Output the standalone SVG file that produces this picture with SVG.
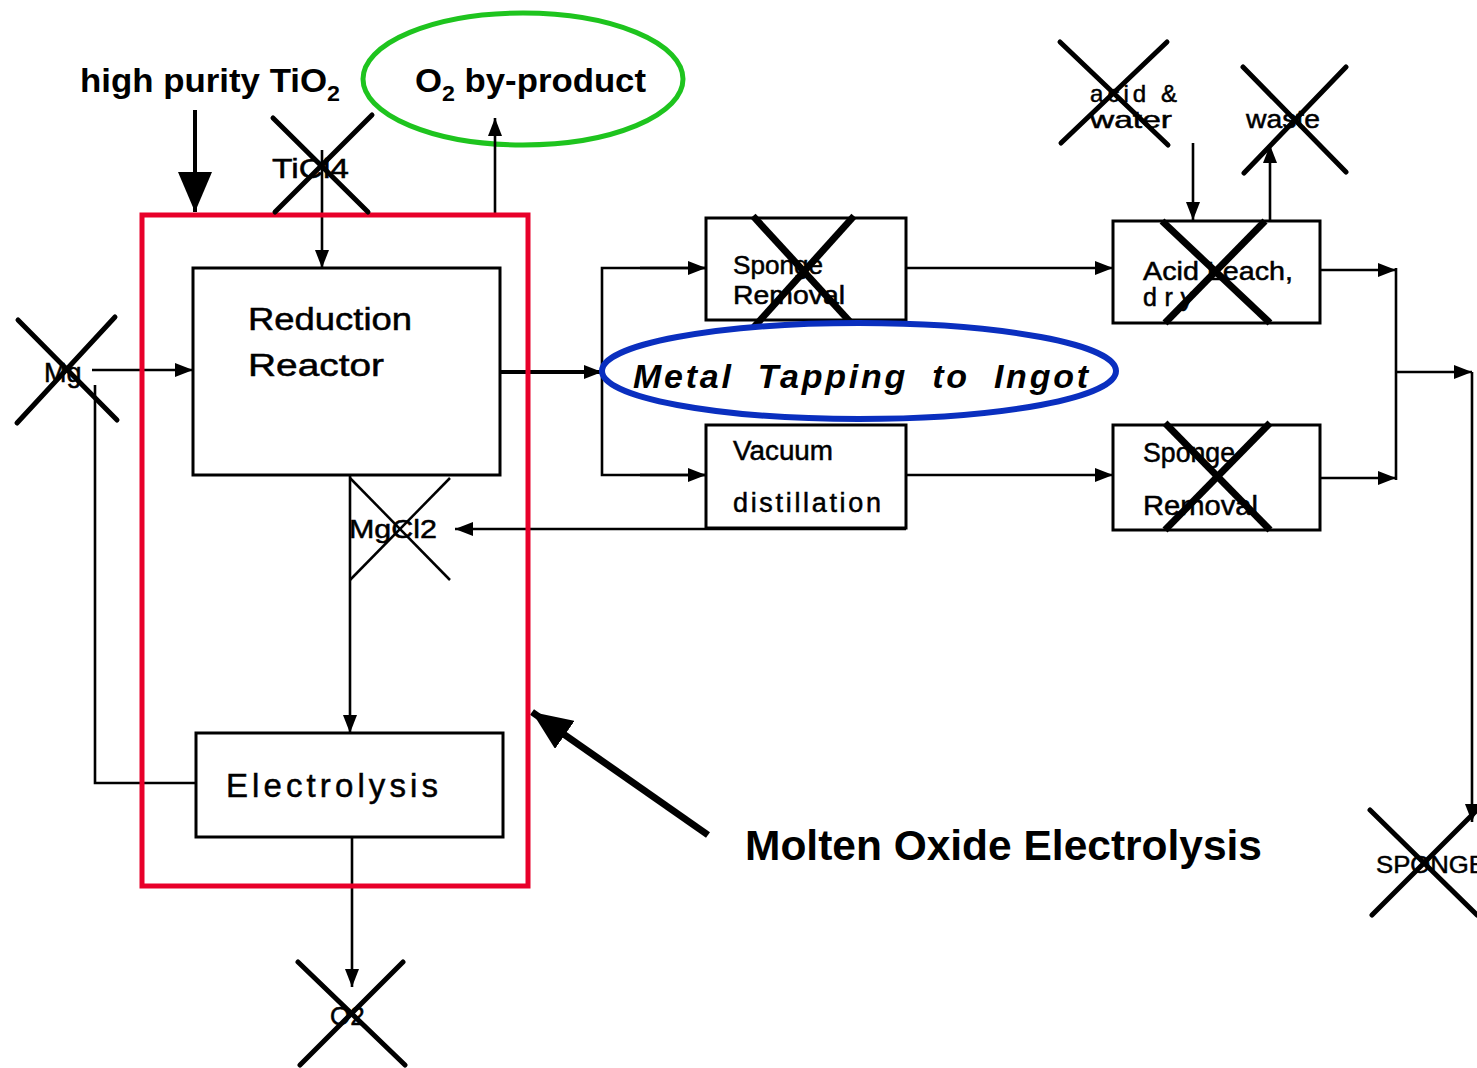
<svg xmlns="http://www.w3.org/2000/svg" width="1477" height="1068" viewBox="0 0 1477 1068">
<style>
.box{fill:#fff;stroke:#000;stroke-width:3}
.ln{fill:none;stroke:#000;stroke-width:2.6}
.x{stroke:#000;stroke-width:5;stroke-linecap:round}
.xt{stroke:#000;stroke-width:7}
.xn{stroke:#000;stroke-width:2.5}
.t{font-family:"Liberation Sans",Arial,sans-serif;fill:#000;stroke:#000;stroke-width:0.5}
.b{font-family:"Liberation Sans",Arial,sans-serif;font-weight:bold;fill:#000}
</style>
<defs>
<marker id="a" markerUnits="userSpaceOnUse" markerWidth="18" markerHeight="14" refX="18" refY="7" orient="auto"><path d="M0,0 L18,7 L0,14 z" fill="#000"/></marker>
<marker id="big" markerUnits="userSpaceOnUse" markerWidth="40" markerHeight="34" refX="40" refY="17" orient="auto"><path d="M0,0 L40,17 L0,34 z" fill="#000"/></marker>
</defs>
<rect width="1477" height="1068" fill="#fff"/>

<g id="o2-byproduct">
<ellipse cx="523" cy="79" rx="160" ry="66" fill="#fff" stroke="#1ec41e" stroke-width="5"/>
<text class="b" x="415" y="92" font-size="33" textLength="231" lengthAdjust="spacingAndGlyphs">O<tspan font-size="22" dy="9">2</tspan><tspan dy="-9"> by-product</tspan></text>
</g>

<g id="connectors">
<line class="ln" x1="195" y1="110" x2="195" y2="212" style="stroke-width:4" marker-end="url(#big)"/>
<line class="ln" x1="322" y1="150" x2="322" y2="268" marker-end="url(#a)"/>
<line class="ln" x1="495" y1="215" x2="495" y2="118" marker-end="url(#a)"/>
<line class="ln" x1="92" y1="370" x2="193" y2="370" marker-end="url(#a)"/>
<polyline class="ln" points="95,385 95,783 196,783"/>
<line class="ln" x1="500" y1="372" x2="602" y2="372" style="stroke-width:4" marker-end="url(#a)"/>
<polyline class="ln" points="705,268 602,268 602,475 705,475"/>
<line class="ln" x1="640" y1="268" x2="706" y2="268" marker-end="url(#a)"/>
<line class="ln" x1="640" y1="475" x2="706" y2="475" marker-end="url(#a)"/>
<line class="ln" x1="906" y1="268" x2="1113" y2="268" marker-end="url(#a)"/>
<line class="ln" x1="906" y1="475" x2="1113" y2="475" marker-end="url(#a)"/>
<line class="ln" x1="906" y1="529" x2="455" y2="529" marker-end="url(#a)"/>
<line class="ln" x1="350" y1="475" x2="350" y2="733" marker-end="url(#a)"/>
<line class="ln" x1="352" y1="837" x2="352" y2="987" marker-end="url(#a)"/>
<line class="ln" x1="1193" y1="143" x2="1193" y2="220" marker-end="url(#a)"/>
<line class="ln" x1="1270" y1="221" x2="1270" y2="145" marker-end="url(#a)"/>
<line class="ln" x1="1320" y1="270" x2="1396" y2="270" marker-end="url(#a)"/>
<line class="ln" x1="1320" y1="478" x2="1396" y2="478" marker-end="url(#a)"/>
<line class="ln" x1="1396" y1="268" x2="1396" y2="480"/>
<line class="ln" x1="1396" y1="372" x2="1472" y2="372" marker-end="url(#a)"/>
<line class="ln" x1="1472" y1="372" x2="1472" y2="822" marker-end="url(#a)"/>
<line class="ln" x1="708" y1="835" x2="532" y2="712" style="stroke-width:7" marker-end="url(#big)"/>
</g>

<g id="molten-oxide-box">
<rect x="142" y="215" width="386" height="671" fill="none" stroke="#e8002a" stroke-width="5"/>
</g>

<g id="high-purity">
<text class="b" x="80" y="92" font-size="33" textLength="260" lengthAdjust="spacingAndGlyphs">high purity TiO<tspan font-size="22" dy="9">2</tspan></text>
</g>

<g id="ticl4">
<text class="t" x="272" y="178" font-size="28" textLength="77" lengthAdjust="spacingAndGlyphs">TiCl4</text>
<line class="x" x1="273" y1="118" x2="368" y2="212"/>
<line class="x" x1="372" y1="115" x2="275" y2="212"/>
</g>

<g id="mg">
<text class="t" x="44" y="382" font-size="27">Mg</text>
<line class="x" x1="18" y1="320" x2="117" y2="420" stroke-width="6"/>
<line class="x" x1="115" y1="317" x2="17" y2="423" stroke-width="6"/>
</g>

<g id="reduction-reactor">
<rect class="box" x="193" y="268" width="307" height="207"/>
<text class="t" x="248" y="330" font-size="31" textLength="164" lengthAdjust="spacingAndGlyphs">Reduction</text>
<text class="t" x="248" y="376" font-size="31" textLength="136" lengthAdjust="spacingAndGlyphs">Reactor</text>
</g>

<g id="mgcl2">
<line class="xn" x1="350" y1="478" x2="450" y2="580"/>
<line class="xn" x1="450" y1="478" x2="350" y2="580"/>
<text class="t" x="349" y="538" font-size="26" textLength="88" lengthAdjust="spacingAndGlyphs">MgCl2</text>
</g>

<g id="electrolysis">
<rect class="box" x="196" y="733" width="307" height="104"/>
<text class="t" x="226" y="797" font-size="33" textLength="212" lengthAdjust="spacing">Electrolysis</text>
</g>

<g id="o2-out">
<text class="t" x="330" y="1025" font-size="26">O2</text>
<line class="x" x1="298" y1="962" x2="405" y2="1065" stroke-width="6"/>
<line class="x" x1="403" y1="962" x2="300" y2="1065" stroke-width="6"/>
</g>

<g id="sponge-removal-1">
<rect class="box" x="706" y="218" width="200" height="102"/>
<text class="t" x="733" y="274" font-size="25" textLength="90" lengthAdjust="spacingAndGlyphs">Sponge</text>
<text class="t" x="733" y="304" font-size="25" textLength="112" lengthAdjust="spacingAndGlyphs">Removal</text>
<line class="xt" x1="753" y1="216" x2="853" y2="325"/>
<line class="xt" x1="854" y1="216" x2="754" y2="327"/>
</g>

<g id="vacuum-distillation">
<rect class="box" x="706" y="425" width="200" height="103"/>
<text class="t" x="733" y="460" font-size="27" textLength="100" lengthAdjust="spacingAndGlyphs">Vacuum</text>
<text class="t" x="733" y="512" font-size="27" textLength="148" lengthAdjust="spacing">distillation</text>
</g>

<g id="metal-tapping">
<ellipse cx="859" cy="371" rx="257" ry="48" fill="#fff" stroke="#0a2fbf" stroke-width="6"/>
<text class="b" x="633" y="388" font-size="34" font-style="italic" textLength="455" lengthAdjust="spacing" word-spacing="12">Metal Tapping to Ingot</text>
</g>

<g id="acid-leach">
<rect class="box" x="1113" y="221" width="207" height="102"/>
<text class="t" x="1143" y="280" font-size="25" textLength="150" lengthAdjust="spacingAndGlyphs">Acid Leach,</text>
<text class="t" x="1143" y="306" font-size="25" textLength="50" lengthAdjust="spacing">dry</text>
<line class="xt" x1="1162" y1="221" x2="1270" y2="323"/>
<line class="xt" x1="1265" y1="221" x2="1165" y2="323"/>
</g>

<g id="acid-water">
<text class="t" x="1090" y="102" font-size="24" textLength="87" lengthAdjust="spacing">acid &amp;</text>
<text class="t" x="1090" y="128" font-size="24" textLength="82" lengthAdjust="spacingAndGlyphs">water</text>
<line class="x" x1="1060" y1="42" x2="1168" y2="145" stroke-width="4"/>
<line class="x" x1="1167" y1="42" x2="1061" y2="143" stroke-width="4"/>
</g>

<g id="waste">
<text class="t" x="1246" y="128" font-size="26" textLength="74" lengthAdjust="spacingAndGlyphs">waste</text>
<line class="x" x1="1243" y1="67" x2="1346" y2="172" stroke-width="4"/>
<line class="x" x1="1346" y1="67" x2="1244" y2="173" stroke-width="4"/>
</g>

<g id="sponge-removal-2">
<rect class="box" x="1113" y="425" width="207" height="105"/>
<text class="t" x="1143" y="462" font-size="27" textLength="92" lengthAdjust="spacingAndGlyphs">Sponge</text>
<text class="t" x="1143" y="515" font-size="27" textLength="115" lengthAdjust="spacingAndGlyphs">Removal</text>
<line class="xt" x1="1165" y1="423" x2="1270" y2="530"/>
<line class="xt" x1="1270" y1="423" x2="1165" y2="530"/>
</g>

<g id="sponge-out">
<text class="t" x="1376" y="873" font-size="24" textLength="110" lengthAdjust="spacingAndGlyphs">SPONGE</text>
<line class="x" x1="1370" y1="810" x2="1477" y2="915" stroke-width="6"/>
<line class="x" x1="1477" y1="810" x2="1372" y2="915" stroke-width="6"/>
</g>

<g id="molten-label">
<text class="b" x="745" y="860" font-size="42" textLength="517" lengthAdjust="spacingAndGlyphs">Molten Oxide Electrolysis</text>
</g>
</svg>
